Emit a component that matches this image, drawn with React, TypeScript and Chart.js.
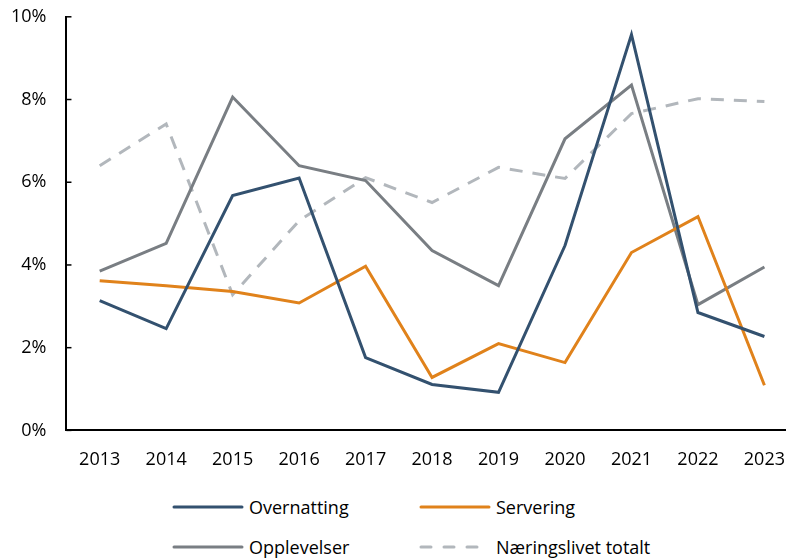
import React, { useEffect, useRef } from "react";
import { Chart, registerables } from "chart.js";

Chart.register(...registerables);

const years = ["2013", "2014", "2015", "2016", "2017", "2018", "2019", "2020", "2021", "2022", "2023"];
const overnatting = [3.14, 2.46, 5.68, 6.1, 1.76, 1.11, 0.92, 4.47, 9.57, 2.85, 2.27];
const servering = [3.62, 3.5, 3.36, 3.08, 3.97, 1.28, 2.1, 1.64, 4.3, 5.17, 1.09];
const opplevelser = [3.85, 4.52, 8.06, 6.4, 6.04, 4.35, 3.5, 7.05, 8.35, 3.04, 3.95];
const naeringslivet = [6.4, 7.41, 3.28, 5.07, 6.11, 5.51, 6.36, 6.09, 7.66, 8.02, 7.95];
const yTicks = [0, 2, 4, 6, 8, 10];

const FONT = "'Open Sans', 'Liberation Sans', sans-serif";

const series = [
  { label: "Overnatting", data: overnatting, color: "#33516f", dash: [] as number[] },
  { label: "Servering", data: servering, color: "#e0821b", dash: [] as number[] },
  { label: "Opplevelser", data: opplevelser, color: "#797e83", dash: [] as number[] },
  { label: "Næringslivet totalt", data: naeringslivet, color: "#b2b7bc", dash: [13, 10] },
];

const innerTicks = {
  id: "innerTicks",
  afterDraw(chart: any) {
    const y = chart.scales.y;
    const x0 = chart.chartArea.left;
    const ctx = chart.ctx;
    ctx.save();
    ctx.strokeStyle = "#000";
    ctx.lineWidth = 1.5;
    yTicks.forEach((v) => {
      const py = y.getPixelForValue(v);
      ctx.beginPath();
      ctx.moveTo(x0, py);
      ctx.lineTo(x0 + 5, py);
      ctx.stroke();
    });
    ctx.restore();
  },
};

export default function App() {
  const ref = useRef<HTMLCanvasElement>(null);
  useEffect(() => {
    if (!ref.current) return;
    const chart = new Chart(ref.current, {
      type: "line",
      data: {
        labels: years,
        datasets: series.map((s) => ({
          label: s.label,
          data: s.data,
          borderColor: s.color,
          backgroundColor: s.color,
          borderWidth: 3,
          borderDash: s.dash,
          pointRadius: 0,
          tension: 0,
          fill: false,
        })),
      },
      options: {
        animation: false,
        responsive: false,
        maintainAspectRatio: false,
        layout: { padding: { top: 0, right: 0, bottom: 0, left: -17 } },
        plugins: { legend: { display: false }, tooltip: { enabled: false } },
        scales: {
          x: {
            offset: true,
            grid: { display: false, drawTicks: false },
            border: { display: true, color: "#000", width: 2 },
            ticks: { color: "#000", font: { family: FONT, size: 18 }, padding: 19 },
          },
          y: {
            min: 0,
            max: 10,
            afterBuildTicks: (scale: any) => {
              scale.ticks = yTicks.map((v) => ({ value: v }));
            },
            grid: { display: false, drawTicks: false },
            border: { display: true, color: "#000", width: 2 },
            ticks: {
              color: "#000",
              font: { family: FONT, size: 18 },
              padding: 20,
              callback: (v: any) => v + "%",
            },
          },
        },
      },
      plugins: [innerTicks],
    });
    return () => chart.destroy();
  }, []);

  const legendRow = (items: typeof series, top: number) =>
    items.map((s, i) => (
      <div
        key={s.label}
        style={{
          position: "absolute",
          left: i === 0 ? 164 : 411,
          top,
          display: "flex",
          alignItems: "center",
          fontFamily: FONT,
          fontSize: 18,
          color: "#000",
          whiteSpace: "nowrap",
        }}
      >
        <svg width={72} height={10} style={{ marginRight: 5 }}>
          <line
            x1={2}
            y1={5}
            x2={70}
            y2={5}
            stroke={s.color}
            strokeWidth={3}
            strokeLinecap="round"
            strokeDasharray={s.dash.length ? "10 13" : undefined}
          />
        </svg>
        <span>{s.label}</span>
      </div>
    ));

  return (
    <div style={{ position: "relative", width: 786, height: 551, overflow: "hidden" }}>
      <canvas
        ref={ref}
        width={796}
        height={504}
        style={{ display: "block", position: "absolute", left: 0, top: -22 }}
      />
      {legendRow([series[0], series[1]], 487)}
      {legendRow([series[2], series[3]], 527)}
    </div>
  );
}
